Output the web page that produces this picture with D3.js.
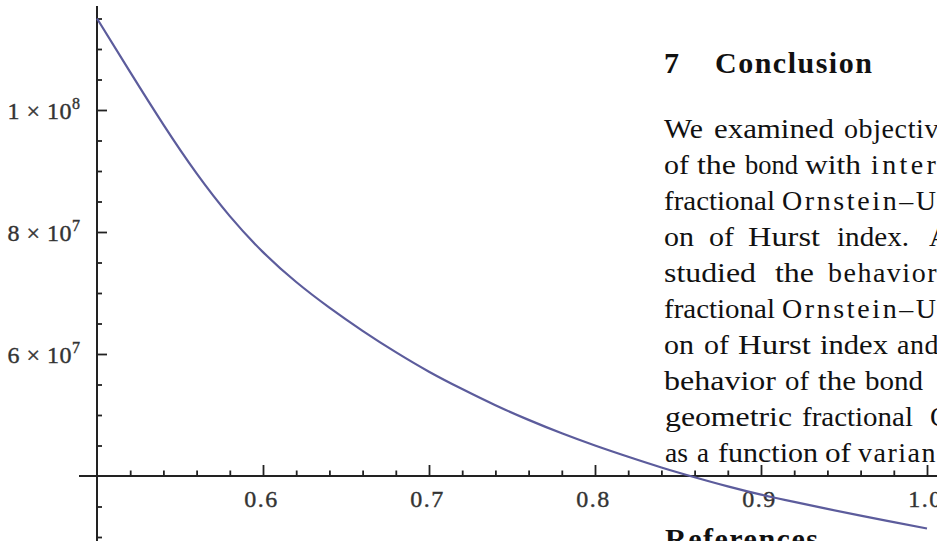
<!DOCTYPE html>
<html lang="en">
<head>
    <meta charset="UTF-8">
    <title>Bond price as a function of Hurst index</title>
    <script src="https://d3js.org/d3.v7.min.js"></script>
    <style>
        body {
            margin: 0;
            background: #fff;
            overflow: hidden;
        }

        svg {
            display: block;
        }

        .tick-label {
            font-family: "Liberation Serif", serif;
            font-size: 24px;
            fill: #333;
            stroke: #333;
            stroke-width: 0.4px;
            letter-spacing: 1.5px;
        }

        .para {
            font-family: "Liberation Serif", serif;
            font-size: 28px;
            fill: #111;
            letter-spacing: 1.3px;
        }

        .heading {
            font-family: "Liberation Serif", serif;
            font-size: 30px;
            font-weight: bold;
            fill: #111;
            letter-spacing: 1.5px;
        }

        .curve {
            fill: none;
            stroke: #5c5c9c;
            stroke-width: 2.2px;
        }
    </style>
</head>
<body>

<svg id="chart"></svg>

<script>
    // values (Hurst index -> bond price)
    const hurstIndex = [0.50, 0.52, 0.54, 0.56, 0.58, 0.60, 0.62, 0.64, 0.66, 0.68,
                        0.70, 0.72, 0.74, 0.76, 0.78, 0.80, 0.82, 0.84, 0.86, 0.88,
                        0.90, 0.92, 0.94, 0.96, 0.98, 1.00];
    const bondPrice = [115.0e6, 106.2e6, 97.6e6, 89.6e6, 82.6e6, 76.7e6, 71.8e6, 67.6e6, 63.8e6, 60.3e6,
                       57.1e6, 54.25e6, 51.6e6, 49.2e6, 47.0e6, 45.0e6, 43.15e6, 41.4e6, 39.8e6, 38.3e6,
                       36.95e6, 35.75e6, 34.6e6, 33.5e6, 32.45e6, 31.4e6];

    // tick values
    const xMajorTicks = [0.6, 0.7, 0.8, 0.9, 1.0];
    const yMajorTicks = [6e7, 8e7, 1e8];
    const xMinorTicks = d3.range(0.52, 0.99, 0.02).filter(v => Math.abs(v * 10 - Math.round(v * 10)) > 1e-6);
    const yMinorTicks = d3.range(3e7, 1.16e8, 5e6).filter(v => v % 2e7 !== 0);

    // page text that sits next to the plot
    const headingText = ["7", "Conclusion"];
    const paraLines = [
        ["We", "examined", "objective"],
        ["of", "the", "bond", "with", "interest"],
        ["fractional", "Ornstein–Uhlenbeck"],
        ["on", "of", "Hurst", "index.", "As"],
        ["studied", "the", "behavior"],
        ["fractional", "Ornstein–Uhlenbeck"],
        ["on", "of", "Hurst", "index", "and"],
        ["behavior", "of", "the", "bond"],
        ["geometric", "fractional", "Ornstein–Uhlenbeck"],
        ["as", "a", "function", "of", "variance"]
    ];
    const nextHeading = "References";

    // layout of the justified lines: where each word starts and how wide it is
    const W = 937, H = 541;
    const wordStarts = [
        [664, 714, 844],
        [664, 697, 745, 805, 871],
        [664, 782],
        [664, 709, 748, 837, 929],
        [664, 775, 828],
        [664, 782],
        [664, 704, 738, 820, 897],
        [664, 785, 818, 865],
        [665, 802, 930],
        [665, 697, 718, 825, 858]
    ];
    const wordWidths = [
        [39, 120, null],
        [25, 39, 53, 56, null],
        [111, null],
        [30, 25, 72, 72, null],
        [92, 39, null],
        [111, null],
        [30, 25, 73, 68, null],
        [112, 24, 38, 58],
        [127, 111, null],
        [23, 12, 100, 26, null]
    ];
    // letter spacing of the word that runs off the right edge
    const lastWordSpacing = [0.6, 3.4, 2.6, 1.3, 1.5, 2.6, 0.5, 1.3, 1.3, 1.5];

    const svg = d3.select("#chart")
                  .attr("width", W)
                  .attr("height", H);

    const x = d3.scaleLinear().domain([0.5, 1.0]).range([97, 927]);
    const y = d3.scaleLinear().domain([4e7, 1e8]).range([476, 110]);

    const x0 = x(0.5), y0 = y(4e7);

    // text block on the right
    const heading = svg.append("text").attr("class", "heading").attr("y", 73);
    heading.append("tspan").attr("x", 664).text(headingText[0]);
    heading.append("tspan").attr("x", 715).text(headingText[1]);

    paraLines.forEach((words, i) => {
        words.forEach((w, j) => {
            const t = svg.append("text")
                         .attr("class", "para")
                         .attr("x", wordStarts[i][j])
                         .attr("y", 138 + i * 36)
                         .text(w);
            if (wordWidths[i][j]) {
                t.attr("textLength", wordWidths[i][j])
                 .attr("lengthAdjust", "spacingAndGlyphs")
                 .style("letter-spacing", "0px");
            } else {
                t.style("letter-spacing", lastWordSpacing[i] + "px");
            }
        });
    });

    svg.append("text")
       .attr("class", "heading")
       .attr("x", 665)
       .attr("y", 549)
       .text(nextHeading);

    // X axis
    const xAxisG = svg.append("g").attr("transform", `translate(0,${y0})`);

    xAxisG.append("g")
          .call(d3.axisBottom(x).tickValues(xMinorTicks).tickSize(-5.5).tickFormat(""))
          .call(g => g.select(".domain").remove());

    xAxisG.append("g")
          .call(d3.axisBottom(x).tickValues(xMajorTicks).tickSize(-11).tickFormat(d3.format(".1f")))
          .call(g => g.select(".domain").remove())
          .call(g => g.selectAll(".tick text")
                      .attr("class", "tick-label")
                      .attr("y", 31)
                      .attr("dy", 0)
                      .attr("dx", -2));

    const xAxisLine = xAxisG.append("line")
          .attr("x1", 79).attr("x2", W)
          .attr("y1", 0).attr("y2", 0);

    // Y axis
    const yAxisG = svg.append("g").attr("transform", `translate(${x0},0)`);

    yAxisG.append("g")
          .call(d3.axisLeft(y).tickValues(yMinorTicks).tickSize(-5).tickFormat(""))
          .call(g => g.select(".domain").remove());

    yAxisG.append("g")
          .call(d3.axisLeft(y).tickValues(yMajorTicks).tickSize(-10).tickFormat(""))
          .call(g => g.select(".domain").remove())
          .call(g => g.selectAll(".tick text").each(function(d) {
              const e = Math.floor(Math.log10(d));
              const m = Math.round(d / Math.pow(10, e));
              const t = d3.select(this)
                          .attr("class", "tick-label")
                          .attr("x", -17)
                          .attr("dy", 0)
                          .attr("y", 8)
                          .attr("text-anchor", "end")
                          .style("letter-spacing", "0.5px");
              t.append("tspan").text(`${m} × 10`);
              t.append("tspan")
               .attr("dy", -10)
               .style("font-size", "16px")
               .style("letter-spacing", "0px")
               .text(e);
          }));

    const yAxisLine = yAxisG.append("line")
          .attr("x1", 0).attr("x2", 0)
          .attr("y1", 6).attr("y2", H);

    svg.selectAll(".tick line")
       .attr("stroke", "#222")
       .attr("stroke-width", 1.8);

    xAxisLine.attr("stroke", "#222").attr("stroke-width", 2);
    yAxisLine.attr("stroke", "#222").attr("stroke-width", 2);

    // curve
    const points = hurstIndex.map((h, i) => ({ h: h, p: bondPrice[i] }));

    const line = d3.line()
                   .x(d => x(d.h))
                   .y(d => y(d.p))
                   .curve(d3.curveNatural);

    svg.append("path")
       .datum(points)
       .attr("class", "curve")
       .attr("d", line);
</script>

</body>
</html>
